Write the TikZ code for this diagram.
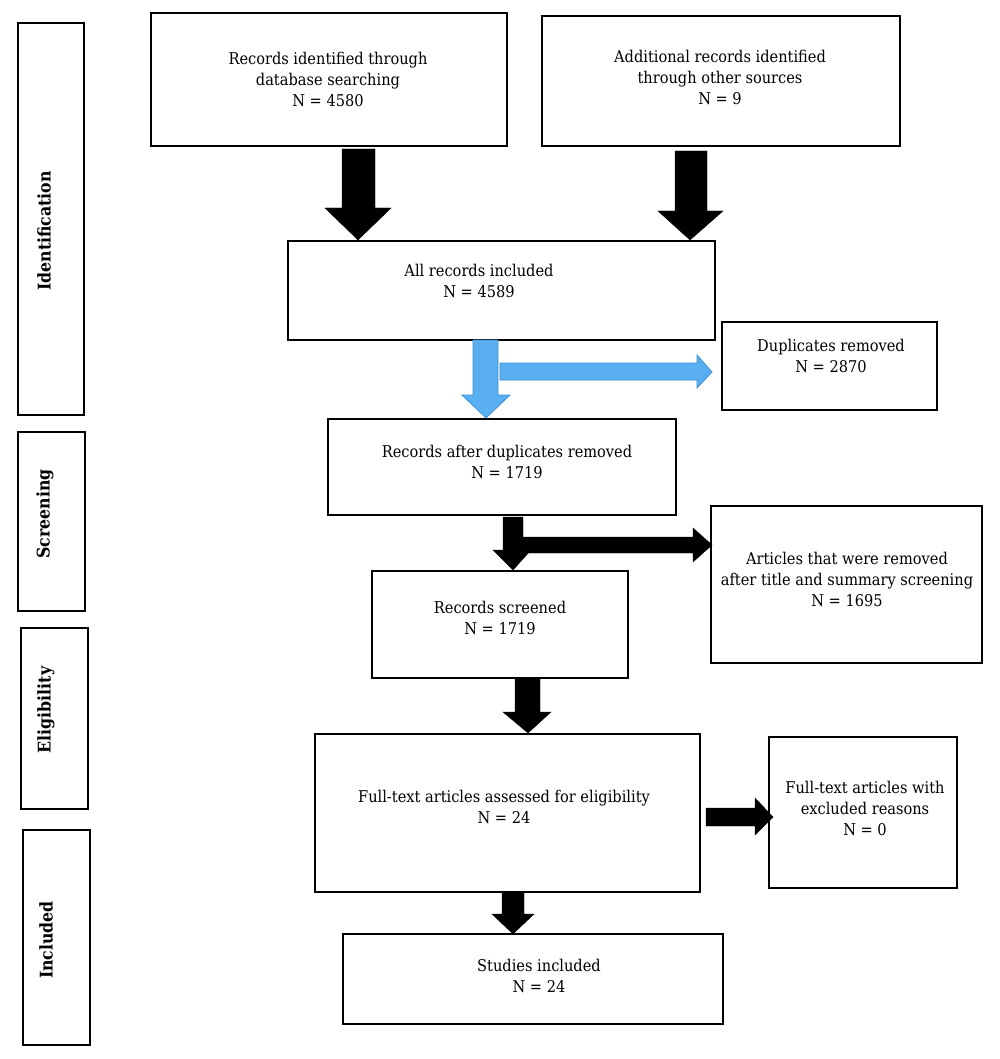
\documentclass[tikz,border=0pt]{standalone}
\usepackage{fontspec}
\setmainfont{DejaVu Serif}[FakeStretch=0.9]
\begin{document}
\begin{tikzpicture}[x=1pt,y=-1pt,
  box/.style={draw=black,line width=1.6pt,anchor=north west,inner sep=0pt},
  txt/.style={align=center,inner sep=0pt,font=\fontsize{16.2}{21}\selectfont},
  side/.style={rotate=90,inner sep=0pt,font=\fontsize{17.5}{20}\selectfont\bfseries},
  blk/.style={fill=black,draw=black,line width=0.4pt},
  blu/.style={fill=arrowblue,draw=arrowblueedge,line width=0.8pt}]
\definecolor{arrowblue}{RGB}{90,175,240}
\definecolor{arrowblueedge}{RGB}{60,145,215}
\useasboundingbox (0,0) rectangle (1000,1059);
\fill[white] (0,0) rectangle (1000,1059);
% side phase boxes
\node[box,minimum width=66pt,minimum height=392pt] (L1) at (17,22) {};
\node[box,minimum width=67pt,minimum height=179pt] (L2) at (17,431) {};
\node[box,minimum width=67pt,minimum height=181pt] (L3) at (20,627) {};
\node[box,minimum width=67pt,minimum height=215pt] (L4) at (22,829) {};
\node[side] (L1t) at (44,231) {Identification};
\node[side] (L2t) at (45,514) {Screening};
\node[side] (L3t) at (46,710) {Eligibility};
\node[side] (L4t) at (46,940) {Included};
% main boxes
\node[box,minimum width=356pt,minimum height=133pt] (A) at (150,12) {};
\node[box,minimum width=358pt,minimum height=130pt] (B) at (541,15) {};
\node[box,minimum width=427pt,minimum height=99pt] (C) at (287,240) {};
\node[box,minimum width=215pt,minimum height=88pt] (D) at (721,321) {};
\node[box,minimum width=348pt,minimum height=96pt] (E) at (327,418) {};
\node[box,minimum width=271pt,minimum height=157pt] (F) at (710,505) {};
\node[box,minimum width=256pt,minimum height=107pt] (G) at (371,570) {};
\node[box,minimum width=385pt,minimum height=158pt] (H) at (314,733) {};
\node[box,minimum width=188pt,minimum height=151pt] (I) at (768,736) {};
\node[box,minimum width=380pt,minimum height=90pt] (J) at (342,933) {};
% texts
\node[txt] (At) at (328,79) {Records identified through\\database searching\\N = 4580};
\node[txt] (Bt) at (720,77) {Additional records identified\\through other sources\\N = 9};
\node[txt] (Ct) at (479,281) {All records included\\N = 4589};
\node[txt] (Dt) at (831,356) {Duplicates removed\\N = 2870};
\node[txt] (Et) at (507,462) {Records after duplicates removed\\N = 1719};
\node[txt] (Ft) at (847,579) {Articles that were removed\\after title and summary screening\\N = 1695};
\node[txt] (Gt) at (500,618) {Records screened\\N = 1719};
\node[txt] (Ht) at (504,807) {Full-text articles assessed for eligibility\\N = 24};
\node[txt] (It) at (865,808) {Full-text articles with\\excluded reasons\\N = 0};
\node[txt] (Jt) at (539,976) {Studies included\\N = 24};
% block arrows
\fill[blk] (342,149) -- (375,149) -- (375,208) -- (391,208) -- (358,240) -- (325,208) -- (342,208) -- cycle;
\fill[blk] (675,151) -- (707,151) -- (707,211) -- (723,211) -- (690,240) -- (658,211) -- (675,211) -- cycle;
\filldraw[blu] (473,340) -- (498,340) -- (498,395) -- (510,395) -- (486,418) -- (462,395) -- (473,395) -- cycle;
\filldraw[blu] (500,363) -- (697,363) -- (697,355) -- (712,372) -- (697,388) -- (697,380) -- (500,380) -- cycle;
\fill[blk] (503,517) -- (523,517) -- (523,550) -- (531,550) -- (513,570) -- (493,550) -- (503,550) -- cycle;
\fill[blk] (523,537) -- (693,537) -- (693,528) -- (712,545) -- (693,562) -- (693,553) -- (523,553) -- cycle;
\fill[blk] (515,678) -- (540,678) -- (540,712) -- (551,712) -- (528,733) -- (503,712) -- (515,712) -- cycle;
\fill[blk] (706,808) -- (755,808) -- (755,798) -- (773,817) -- (755,835) -- (755,826) -- (706,826) -- cycle;
\fill[blk] (502,892) -- (524,892) -- (524,914) -- (534,914) -- (513,934) -- (492,914) -- (502,914) -- cycle;
\end{tikzpicture}
\end{document}
